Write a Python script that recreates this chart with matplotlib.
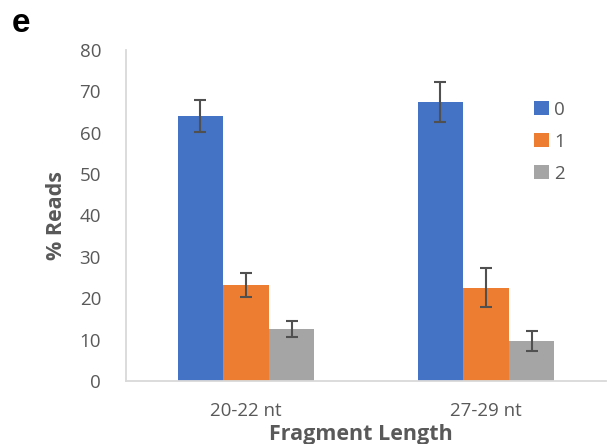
import numpy as np
import matplotlib.pyplot as plt

categories = ['20-22 nt', '27-29 nt']
series = ['0', '1', '2']
means = [[64.1, 67.5],
         [23.1, 22.5],
         [12.5, 9.7]]
errs = [[3.8, 4.8],
        [2.9, 4.7],
        [1.9, 2.5]]
colors = ['#4472c4', '#ed7d31', '#a5a5a5']

plt.rcParams['font.family'] = ['Open Sans', 'DejaVu Sans']
txt = '#595959'

fig = plt.figure(figsize=(6.1, 4.44), dpi=100)
ax = fig.add_axes([126/610, 1-381/444, 480/610, 331/444])

x = np.arange(len(categories))
w = 0.19
for i, s in enumerate(series):
    ax.bar(x + (i-1)*w, means[i], w, color=colors[i], label=s,
           yerr=errs[i], error_kw=dict(ecolor='#505050', elinewidth=1.5, capsize=4, capthick=1.5))

ax.set_xlim(-0.5, 1.5)
ax.set_ylim(0, 80)
ax.set_yticks(range(0, 81, 10))
ax.set_xticks(x)
ax.set_xticklabels(categories)
ax.tick_params(length=0, labelsize=13.5, labelcolor=txt)
ax.tick_params(axis='y', pad=18)
ax.tick_params(axis='x', pad=15)
for sp in ['top', 'right']:
    ax.spines[sp].set_visible(False)
for sp in ['left', 'bottom']:
    ax.spines[sp].set_color('#d9d9d9')
    ax.spines[sp].set_linewidth(1.3)

fig.text(56/610, 1-215/444, '% Reads', rotation=90, fontsize=15.5, fontweight='bold',
         color=txt, ha='center', va='center')
fig.text(361/610, 1-434/444, 'Fragment Length', fontsize=15.5, fontweight='bold',
         color=txt, ha='center', va='center')

ax.legend(loc='upper left', bbox_to_anchor=(0.834, 0.87), frameon=False, fontsize=13.5,
          handlelength=0.8, handleheight=0.8, handletextpad=0.3, labelspacing=0.75,
          borderaxespad=0, labelcolor=txt)

fig.text(12/610, 1-32/444, 'e', fontsize=24, fontweight='bold', family='Liberation Sans')

fig.savefig('out.png', dpi=100)
